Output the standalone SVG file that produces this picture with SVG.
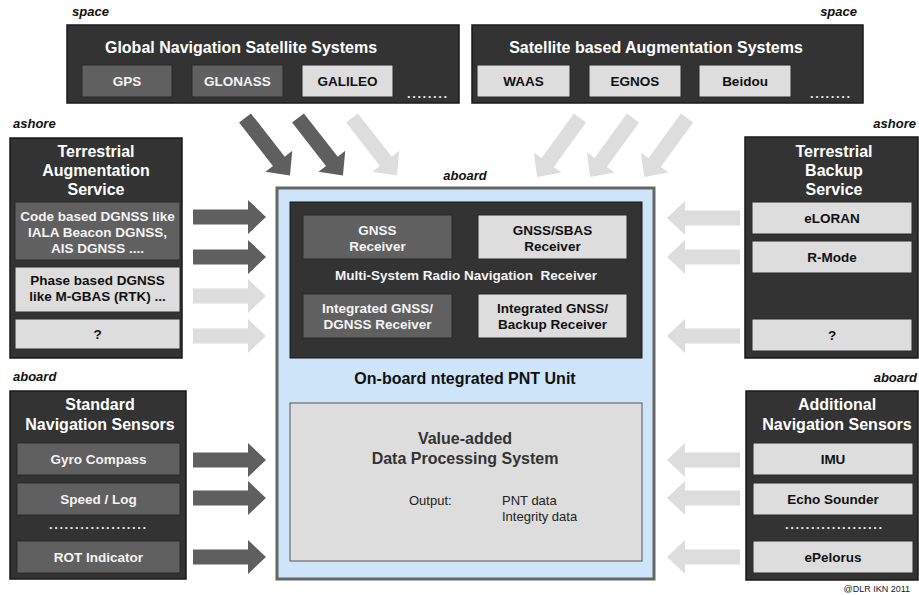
<svg xmlns="http://www.w3.org/2000/svg" xmlns:xlink="http://www.w3.org/1999/xlink" width="919" height="595" viewBox="0 0 919 595">
<style>
text{font-family:"Liberation Sans",Arial,sans-serif}
.panel{fill:#333333;stroke:#1a1a1a;stroke-width:1.5}
.mid{fill:#606060;stroke:#2a2a2a;stroke-width:1}
.lt{fill:#dddddd;stroke:#2a2a2a;stroke-width:1}
.ttl{font-size:16px;font-weight:bold;fill:#ffffff;text-anchor:middle}
.lw{font-size:13.5px;font-weight:bold;fill:#f4f4f4;text-anchor:middle}
.lb{font-size:13.5px;font-weight:bold;fill:#111111;text-anchor:middle}
.loc{font-size:13px;font-weight:bold;font-style:italic;fill:#111111}
.dots{font-size:13px;font-weight:bold;fill:#e8e8e8}
.ad{fill:#5f5f5f}
.al{fill:#dddddd}
</style>
<defs>
<path id="arr" d="M0,-7.5 H55 V-17 L73,0 L55,17 V7.5 H0 Z"/>
</defs>
<rect width="919" height="595" fill="#ffffff"/>

<!-- location labels -->
<text class="loc" x="72" y="16">space</text>
<text class="loc" x="857" y="16" text-anchor="end">space</text>
<text class="loc" x="13" y="128">ashore</text>
<text class="loc" x="916" y="128" text-anchor="end">ashore</text>
<text class="loc" x="465" y="180" text-anchor="middle">aboard</text>
<text class="loc" x="13" y="381">aboard</text>
<text class="loc" x="917" y="382" text-anchor="end">aboard</text>

<!-- connectors -->
<g id="connectors">
<use href="#arr" class="ad" transform="translate(245,118) rotate(52)"/>
<use href="#arr" class="ad" transform="translate(298,118) rotate(52)"/>
<use href="#arr" class="al" transform="translate(352,118) rotate(52)"/>
<use href="#arr" class="al" transform="translate(580,118) rotate(126)"/>
<use href="#arr" class="al" transform="translate(633,118) rotate(126)"/>
<use href="#arr" class="al" transform="translate(687,118) rotate(126)"/>
<use href="#arr" class="ad" transform="translate(193,217)"/>
<use href="#arr" class="ad" transform="translate(193,257)"/>
<use href="#arr" class="al" transform="translate(193,296)"/>
<use href="#arr" class="al" transform="translate(193,336)"/>
<use href="#arr" class="al" transform="translate(740,218) scale(-1,1)"/>
<use href="#arr" class="al" transform="translate(740,257) scale(-1,1)"/>
<use href="#arr" class="al" transform="translate(740,336) scale(-1,1)"/>
<use href="#arr" class="ad" transform="translate(193,460)"/>
<use href="#arr" class="ad" transform="translate(193,498)"/>
<use href="#arr" class="ad" transform="translate(193,557)"/>
<use href="#arr" class="al" transform="translate(740,460) scale(-1,1)"/>
<use href="#arr" class="al" transform="translate(740,498) scale(-1,1)"/>
<use href="#arr" class="al" transform="translate(740,557) scale(-1,1)"/>
</g>

<!-- GNSS -->
<g id="gnss">
<rect class="panel" x="67" y="25" width="392" height="78"/>
<text class="ttl" x="241" y="53">Global Navigation Satellite Systems</text>
<rect class="mid" x="82" y="65" width="90" height="32"/>
<text class="lw" x="127" y="86">GPS</text>
<rect class="mid" x="192" y="65" width="91" height="32"/>
<text class="lw" x="237.5" y="86">GLONASS</text>
<rect class="lt" x="302" y="65" width="91" height="32"/>
<text class="lb" x="347.5" y="86">GALILEO</text>
<text class="dots" x="407" y="98" textLength="40" lengthAdjust="spacing">........</text>
</g>

<!-- SBAS -->
<g id="sbas">
<rect class="panel" x="472" y="25" width="391" height="78"/>
<text class="ttl" x="656" y="53">Satellite based Augmentation Systems</text>
<rect class="lt" x="477" y="65" width="93" height="32"/>
<text class="lb" x="523.5" y="86">WAAS</text>
<rect class="lt" x="589" y="65" width="92" height="32"/>
<text class="lb" x="635" y="86">EGNOS</text>
<rect class="lt" x="699" y="65" width="92" height="32"/>
<text class="lb" x="745" y="86">Beidou</text>
<text class="dots" x="810" y="98" textLength="40" lengthAdjust="spacing">........</text>
</g>

<!-- Terrestrial Augmentation -->
<g id="tas">
<rect class="panel" x="10" y="138" width="172" height="220"/>
<text class="ttl" x="96" y="157">Terrestrial</text>
<text class="ttl" x="96" y="176">Augmentation</text>
<text class="ttl" x="96" y="195">Service</text>
<rect class="mid" x="15" y="202" width="165" height="58"/>
<text class="lw" x="97.5" y="221">Code based DGNSS like</text>
<text class="lw" x="97.5" y="237">IALA Beacon DGNSS,</text>
<text class="lw" x="97.5" y="253">AIS DGNSS ....</text>
<rect class="lt" x="15" y="267" width="165" height="45"/>
<text class="lb" x="97.5" y="285">Phase based DGNSS</text>
<text class="lb" x="97.5" y="301">like M-GBAS (RTK) ...</text>
<rect class="lt" x="15" y="319" width="165" height="30"/>
<text class="lb" x="97.5" y="339">?</text>
</g>

<!-- Terrestrial Backup -->
<g id="tbs">
<rect class="panel" x="745" y="137" width="173" height="221"/>
<text class="ttl" x="834" y="157">Terrestrial</text>
<text class="ttl" x="834" y="176">Backup</text>
<text class="ttl" x="834" y="195">Service</text>
<rect class="lt" x="752" y="202" width="160" height="32"/>
<text class="lb" x="832" y="223">eLORAN</text>
<rect class="lt" x="752" y="241" width="160" height="32"/>
<text class="lb" x="832" y="262">R-Mode</text>
<rect class="lt" x="752" y="319" width="160" height="32"/>
<text class="lb" x="832" y="340">?</text>
</g>

<!-- Standard Navigation Sensors -->
<g id="sns">
<rect class="panel" x="10" y="391" width="176" height="188"/>
<text class="ttl" x="100" y="410">Standard</text>
<text class="ttl" x="100" y="430">Navigation Sensors</text>
<rect class="mid" x="17" y="443" width="163" height="32"/>
<text class="lw" x="98.5" y="464">Gyro Compass</text>
<rect class="mid" x="17" y="483" width="163" height="32"/>
<text class="lw" x="98.5" y="504">Speed / Log</text>
<text class="dots" x="49" y="529" textLength="97" lengthAdjust="spacing">...................</text>
<rect class="mid" x="17" y="541" width="163" height="32"/>
<text class="lw" x="98.5" y="562">ROT Indicator</text>
</g>

<!-- Additional Navigation Sensors -->
<g id="ans">
<rect class="panel" x="746" y="391" width="172" height="189"/>
<text class="ttl" x="837" y="410">Additional</text>
<text class="ttl" x="837" y="430">Navigation Sensors</text>
<rect class="lt" x="753" y="443" width="160" height="32"/>
<text class="lb" x="833" y="464">IMU</text>
<rect class="lt" x="753" y="483" width="160" height="32"/>
<text class="lb" x="833" y="504">Echo Sounder</text>
<text class="dots" x="785" y="529" textLength="97" lengthAdjust="spacing">...................</text>
<rect class="lt" x="753" y="541" width="160" height="32"/>
<text class="lb" x="833" y="562">ePelorus</text>
</g>

<!-- Onboard PNT Unit -->
<g id="pnt-unit">
<rect x="277" y="188" width="377" height="391" fill="#cde4f9" stroke="#666666" stroke-width="3"/>
<text x="465" y="384" font-size="16" font-weight="bold" fill="#111111" text-anchor="middle">On-board ntegrated PNT Unit</text>
</g>

<g id="receiver">
<rect x="290" y="202" width="352" height="156" fill="#333333" stroke="#1a1a1a" stroke-width="1"/>
<text class="lw" x="466" y="280" style="white-space:pre">Multi-System Radio Navigation  Receiver</text>
</g>
<g id="gnss-rx">
<rect class="mid" x="303" y="215" width="149" height="44"/>
<text class="lw" x="377.5" y="235">GNSS</text>
<text class="lw" x="377.5" y="251">Receiver</text>
</g>
<g id="sbas-rx">
<rect class="lt" x="478" y="215" width="149" height="44"/>
<text class="lb" x="552.5" y="235">GNSS/SBAS</text>
<text class="lb" x="552.5" y="251">Receiver</text>
</g>
<g id="dgnss-rx">
<rect class="mid" x="303" y="294" width="149" height="44"/>
<text class="lw" x="377.5" y="313">Integrated GNSS/</text>
<text class="lw" x="377.5" y="329">DGNSS Receiver</text>
</g>
<g id="backup-rx">
<rect class="lt" x="478" y="294" width="149" height="44"/>
<text class="lb" x="552.5" y="313">Integrated GNSS/</text>
<text class="lb" x="552.5" y="329">Backup Receiver</text>
</g>

<g id="processing">
<rect x="290" y="403" width="352" height="158" fill="#dddddd" stroke="#555555" stroke-width="1"/>
<text x="465" y="444" font-size="16" font-weight="bold" fill="#333333" text-anchor="middle">Value-added</text>
<text x="465" y="464" font-size="16" font-weight="bold" fill="#333333" text-anchor="middle">Data Processing System</text>
<text x="409" y="505" font-size="13" fill="#222222">Output:</text>
<text x="502" y="505" font-size="13" fill="#222222">PNT data</text>
<text x="502" y="521" font-size="13" fill="#222222">Integrity data</text>
</g>

<text x="910" y="592" font-size="9" fill="#222222" text-anchor="end">@DLR IKN 2011</text>
</svg>
